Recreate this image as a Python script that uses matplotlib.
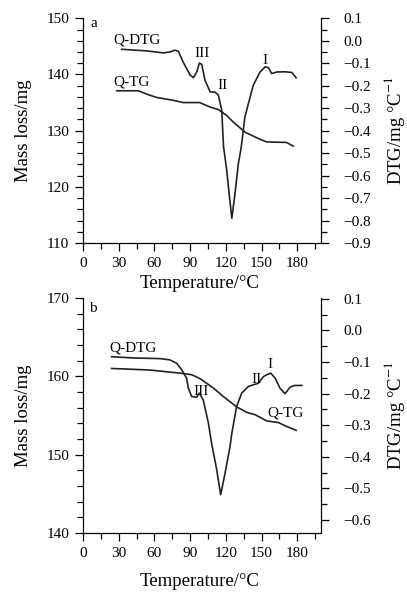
import numpy as np
import matplotlib.pyplot as plt
from matplotlib.ticker import MultipleLocator, FuncFormatter

plt.rcParams['font.family'] = ['Liberation Serif', 'DejaVu Serif']
plt.rcParams['mathtext.fontset'] = 'stix'

# panel a
a_dtg_t = [32.5, 53.5, 67.5, 73, 77, 80, 84, 90, 92.7, 95.5, 97.7, 99.7, 102.5, 106.7, 110.9, 113.7,
           116.5, 118, 120.7, 123, 125, 127.7, 130.5, 132.5, 133.3, 136, 139, 143, 148.7, 153,
           155.7, 158.5, 162.7, 169.7, 175.4, 179]
a_dtg = [-0.038, -0.045, -0.054, -0.05, -0.042, -0.046, -0.094, -0.153, -0.164, -0.139, -0.099, -0.105,
         -0.176, -0.227, -0.229, -0.242, -0.309, -0.47, -0.576, -0.694, -0.79, -0.678, -0.546, -0.487,
         -0.456, -0.338, -0.278, -0.198, -0.139, -0.116, -0.12, -0.146, -0.139, -0.138, -0.141, -0.165]
a_tg_t = [28.3, 46.5, 53.5, 62, 76, 84, 98, 106.7, 113.7, 120.7, 126.3, 136, 145.7, 154, 171, 176.5]
a_tg = [137.1, 137.1, 136.5, 135.9, 135.4, 135.0, 135.0, 134.2, 133.75, 132.7, 131.5, 129.75, 128.75,
        128.0, 127.9, 127.25]

# panel b
b_dtg_t = [24, 42.3, 64.7, 73, 78.7, 83, 87, 88.5, 91.3, 95.5, 97.7, 101, 105.3, 108, 112.3, 115.6,
           119.3, 123.5, 125, 129, 133.3, 139, 143, 147.3, 151.5, 154.4, 157.7, 161.4, 165.5, 169.7,
           174, 178, 183.8]
b_dtg = [-0.083, -0.087, -0.089, -0.093, -0.104, -0.125, -0.151, -0.183, -0.209, -0.211, -0.198, -0.22,
         -0.293, -0.357, -0.441, -0.52, -0.452, -0.367, -0.325, -0.241, -0.198, -0.177, -0.172, -0.167,
         -0.146, -0.14, -0.135, -0.151, -0.183, -0.2, -0.179, -0.174, -0.174]
b_tg_t = [24, 56, 81.5, 91.3, 98.3, 109.5, 118, 129, 137.5, 144.5, 154.4, 164, 171, 179]
b_tg = [161.0, 160.8, 160.4, 160.2, 159.7, 158.5, 157.4, 156.1, 155.4, 155.1, 154.3, 154.1, 153.6, 153.1]

x_ticks = [0, 30, 60, 90, 120, 150, 180]


def fmt(v, pos):
    s = '%.1f' % v
    if s == '-0.0':
        s = '0.0'
    return s.replace('-', '\u2212')


def setup(ax, ax2, ylim, ymajor, ylim2):
    ax.set_xlim(0, 200)
    ax.set_ylim(*ylim)
    ax.set_xticks(x_ticks)
    ax.xaxis.set_minor_locator(MultipleLocator(15))
    ax.yaxis.set_major_locator(MultipleLocator(ymajor))
    ax.yaxis.set_minor_locator(MultipleLocator(2))
    ax.spines['top'].set_visible(False)
    ax2.spines['top'].set_visible(False)
    ax.tick_params(which='major', direction='out', length=6, width=0.9, labelsize=11, pad=4)
    ax.tick_params(which='minor', direction='out', length=4, width=0.9)
    ax2.set_ylim(*ylim2)
    ax2.yaxis.set_major_locator(MultipleLocator(0.1))
    ax2.yaxis.set_minor_locator(MultipleLocator(0.05))
    ax2.yaxis.set_major_formatter(FuncFormatter(fmt))
    ax2.tick_params(which='major', direction='out', length=6, width=0.9, labelsize=11, pad=10)
    ax2.tick_params(which='minor', direction='out', length=4, width=0.9)
    ax.set_xlabel('Temperature/\u00b0C', fontsize=13.5)
    ax.set_ylabel('Mass loss/mg', fontsize=13.5)
    ax2.set_ylabel('DTG/mg \u00b0C$^{-1}$', fontsize=13.5)
    ax.yaxis.set_label_coords(-0.214, 0.5)
    ax2.yaxis.set_label_coords(1.255, 0.5)


fig = plt.figure(figsize=(4.07, 5.92), dpi=100)

ax1 = fig.add_axes([0.204, 0.5895, 0.585, 0.3796])
ax1b = ax1.twinx()
setup(ax1, ax1b, (110, 150), 10, (-0.9, 0.1))
ax1.plot(a_tg_t, a_tg, color='#222222', lw=1.2)
ax1b.plot(a_dtg_t, a_dtg, color='#222222', lw=1.2)
ax1.xaxis.set_label_coords(0.49, -0.142)
ax1.text(0.032, 0.975, 'a', transform=ax1.transAxes, fontsize=11, ha='left', va='center')
ax1b.text(45, 0.005, 'Q-DTG', fontsize=11, ha='center', va='center')
ax1.text(41, 138.7, 'Q-TG', fontsize=11, ha='center', va='center')
ax1b.text(99.7, -0.057, 'III', fontsize=11, ha='center', va='center')
ax1b.text(117, -0.2, 'II', fontsize=11, ha='center', va='center')
ax1b.text(153, -0.087, 'I', fontsize=11, ha='center', va='center')

ax2 = fig.add_axes([0.204, 0.0997, 0.585, 0.397])
ax2b = ax2.twinx()
setup(ax2, ax2b, (140, 170), 10, (-0.641, 0.103))
ax2.plot(b_tg_t, b_tg, color='#222222', lw=1.2)
ax2b.plot(b_dtg_t, b_dtg, color='#222222', lw=1.2)
ax2.xaxis.set_label_coords(0.49, -0.17)
ax2.text(0.026, 0.956, 'b', transform=ax2.transAxes, fontsize=11, ha='left', va='center')
ax2b.text(42, -0.056, 'Q-DTG', fontsize=11, ha='center', va='center')
ax2.text(170.3, 155.3, 'Q-TG', fontsize=11, ha='center', va='center')
ax2b.text(99, -0.193, 'III', fontsize=11, ha='center', va='center')
ax2b.text(145.4, -0.154, 'II', fontsize=11, ha='center', va='center')
ax2b.text(157.1, -0.109, 'I', fontsize=11, ha='center', va='center')

fig.savefig('out.png', dpi=100)
